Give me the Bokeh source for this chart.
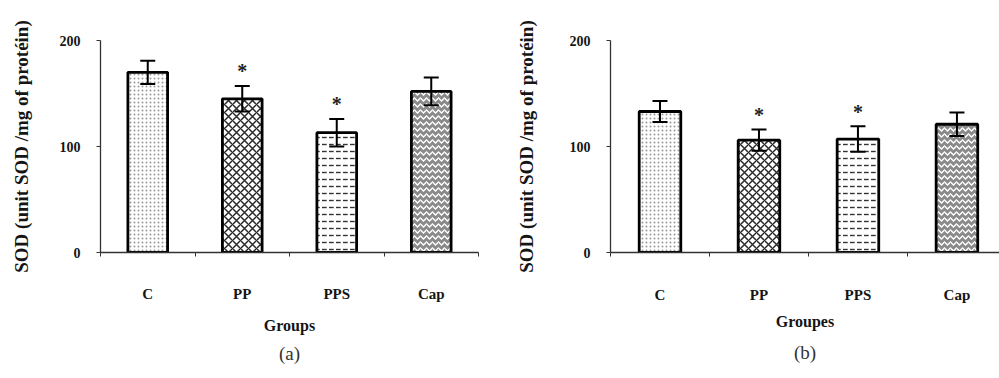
from bokeh.plotting import figure
from bokeh.layouts import row
from bokeh.models import (ColumnDataSource, Range1d, FixedTicker, Whisker, TeeHead,
                          Title)
from bokeh.core.properties import value
from bokeh.embed import file_html
from bokeh.resources import INLINE

# ---- data ----
groups = ["C", "PP", "PPS", "Cap"]
sod_a = [170, 145, 113, 152]
err_a = [11, 12, 13, 13]
sod_b = [133, 106, 107, 121]
err_b = [10, 10, 12, 11]
signif_a = ["", "*", "*", ""]
signif_b = ["", "*", "*", ""]
y_ticks = [0, 100, 200]

# ---- bar styles (one per group) ----
fill_colors = ["white", "white", "white", "#8a8a8a"]
hatch_patterns = ["dot", "diagonal_cross", "horizontal_dash", "horizontal_wave"]
hatch_colors = ["#9a9a9a", "#2a2a2a", "#333333", "white"]
hatch_scales = [4, 8, 7, 6]
hatch_weights = [1.0, 1.5, 1.4, 1.4]

SERIF = "Liberation Serif"
INK = "#151515"


def panel(values, errors, marks, xlabel, caption, width, left, right, top, bottom,
          x_end, label_standoff, xlabel_standoff, ylabel_standoff, title_standoff):
    pos = [i + 0.5 for i in range(len(groups))]
    p = figure(width=width, height=378, output_backend="svg", toolbar_location=None,
               x_range=Range1d(0, x_end), y_range=Range1d(0, 200),
               min_border_left=left, min_border_right=right,
               min_border_top=top, min_border_bottom=bottom)
    p.outline_line_color = None
    p.grid.visible = False
    p.background_fill_color = "white"
    p.border_fill_color = "white"

    src = ColumnDataSource(dict(
        x=pos, top=values,
        upper=[v + e for v, e in zip(values, errors)],
        lower=[v - e for v, e in zip(values, errors)],
        star_y=[v + e + 14 for v, e in zip(values, errors)],
        star=marks,
        fill=fill_colors, hatch=hatch_patterns, hcolor=hatch_colors,
        hscale=hatch_scales, hweight=hatch_weights,
    ))

    p.vbar(x="x", top="top", bottom=0, width=0.42, source=src,
           fill_color="fill", hatch_pattern="hatch", hatch_color="hcolor",
           hatch_scale="hscale", hatch_weight="hweight",
           line_color="black", line_width=2.8)

    p.add_layout(Whisker(base="x", upper="upper", lower="lower", source=src,
                         level="overlay", line_color="black", line_width=2,
                         upper_head=TeeHead(size=15, line_color="black", line_width=2),
                         lower_head=TeeHead(size=15, line_color="black", line_width=2)))

    p.text(x="x", y="star_y", text="star", source=src, text_align="center",
           text_baseline="middle", text_font=value(SERIF), text_font_size="20px",
           text_font_style="bold", text_color="#222222")

    # x axis: labels at group centres, short ticks at group boundaries
    xa = p.xaxis[0]
    xa.ticker = FixedTicker(ticks=pos, minor_ticks=list(range(len(groups) + 1)))
    xa.major_label_overrides = {v: g for v, g in zip(pos, groups)}
    xa.major_tick_out = 0
    xa.major_tick_in = 0
    xa.minor_tick_out = 4
    xa.minor_tick_in = 0
    xa.axis_line_width = 1.3
    xa.axis_line_color = "#333333"
    xa.minor_tick_line_color = "#333333"
    xa.major_label_standoff = label_standoff
    xa.major_label_text_font = SERIF
    xa.major_label_text_font_style = "bold"
    xa.major_label_text_font_size = "15px"
    xa.major_label_text_color = INK
    xa.axis_label = xlabel
    xa.axis_label_standoff = xlabel_standoff
    xa.axis_label_text_font = SERIF
    xa.axis_label_text_font_style = "bold"
    xa.axis_label_text_font_size = "16px"
    xa.axis_label_text_color = INK

    ya = p.yaxis[0]
    ya.ticker = FixedTicker(ticks=y_ticks, minor_ticks=[])
    ya.major_tick_out = 4
    ya.major_tick_in = 0
    ya.axis_line_width = 1.3
    ya.axis_line_color = "#333333"
    ya.major_tick_line_color = "#333333"
    ya.major_label_standoff = 16
    ya.major_label_text_font = SERIF
    ya.major_label_text_font_style = "bold"
    ya.major_label_text_font_size = "14px"
    ya.major_label_text_color = INK
    ya.axis_label = "SOD (unit SOD /mg of protéin)"
    ya.axis_label_standoff = ylabel_standoff
    ya.axis_label_text_font = SERIF
    ya.axis_label_text_font_style = "bold"
    ya.axis_label_text_font_size = "19px"
    ya.axis_label_text_color = INK

    p.add_layout(Title(text=caption, align="center", text_font=SERIF,
                       text_font_style="normal", text_font_size="19px",
                       text_color="#333333", standoff=title_standoff), "below")
    return p


pa = panel(sod_a, err_a, signif_a, "Groups", "(a)", 500, 100, 22, 38, 121,
           4.0, 29, 12, 25, 8)
pb = panel(sod_b, err_b, signif_b, "Groupes", "(b)", 499, 110, 0, 40, 126,
           3.93, 30, 7, 30, 14)

layout = row(pa, pb)
open("out.html", "w").write(file_html(layout, INLINE))
